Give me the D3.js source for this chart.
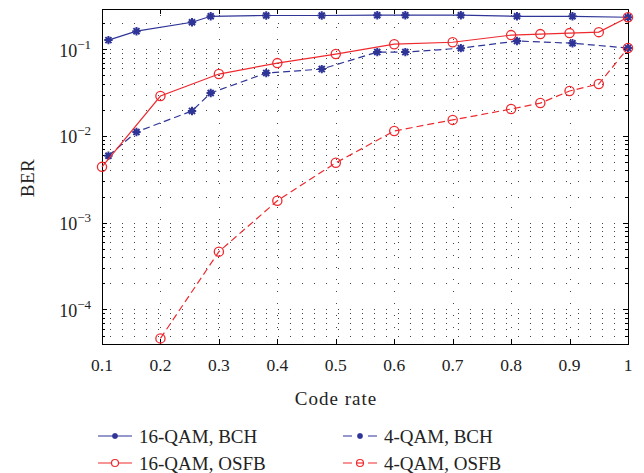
<!DOCTYPE html>
<html>
<head>
<meta charset="utf-8">
<script src="https://cdn.jsdelivr.net/npm/d3@7"></script>
<style>
	body { margin: 0; background: #fff; }
	svg { display: block; font-family: "Liberation Serif", "Times New Roman", serif; }
</style>
</head>
<body>
<div id="svg"></div>
<script>
const width = 644,
			height = 473;

// code rates of the BCH(63,k) codes and of the OSFB schemes
const rateBch = [0.111, 0.159, 0.254, 0.286, 0.381, 0.476, 0.571, 0.619, 0.714, 0.810, 0.905, 1];
const ber16Bch = [0.127, 0.161, 0.204, 0.239, 0.244, 0.244, 0.246, 0.246, 0.246, 0.239, 0.239, 0.233];
const ber4Bch = [0.0059, 0.0111, 0.0194, 0.0312, 0.053, 0.0589, 0.0924, 0.0924, 0.1026, 0.124, 0.117, 0.103];

const rate16Osfb = [0.1, 0.2, 0.3, 0.4, 0.5, 0.6, 0.7, 0.8, 0.85, 0.9, 0.95, 1];
const ber16Osfb = [0.0044, 0.0288, 0.0516, 0.069, 0.0877, 0.114, 0.120, 0.145, 0.149, 0.153, 0.157, 0.233];

const rate4Osfb = [0.2, 0.3, 0.4, 0.5, 0.6, 0.7, 0.8, 0.85, 0.9, 0.95, 1];
const ber4Osfb = [4.64e-5, 4.64e-4, 1.79e-3, 4.9e-3, 0.0114, 0.0153, 0.0204, 0.0239, 0.0329, 0.0396, 0.103];

const xTicks = [0.1, 0.2, 0.3, 0.4, 0.5, 0.6, 0.7, 0.8, 0.9, 1];
const xTickLabels = ["0.1", "0.2", "0.3", "0.4", "0.5", "0.6", "0.7", "0.8", "0.9", "1"];
const yExponents = [-1, -2, -3, -4];

const seriesNames = ["16-QAM, BCH", "4-QAM, BCH", "16-QAM, OSFB", "4-QAM, OSFB"];

const blue = "#2f3597",
			red = "#ee2a2f";

const series = [
	{ name: seriesNames[0], x: rateBch, y: ber16Bch, color: blue, dash: null, mark: "star" },
	{ name: seriesNames[1], x: rateBch, y: ber4Bch, color: blue, dash: "7,4", mark: "star" },
	{ name: seriesNames[2], x: rate16Osfb, y: ber16Osfb, color: red, dash: null, mark: "circle" },
	{ name: seriesNames[3], x: rate4Osfb, y: ber4Osfb, color: red, dash: "7,4", mark: "circle" }
];

const svg = d3.select("#svg")
	.append("svg")
		.attr("width", width)
		.attr("height", height);

const pLeft = 102, pRight = 628, pTop = 9, pBottom = 344;

const x = d3.scaleLinear()
		.domain([0.1, 1])
		.range([pLeft, pRight]);

const y = d3.scaleLog()
		.domain([4e-5, 0.29])
		.range([pBottom, pTop]);

// all log ticks (1..9 x decade) inside the domain
const logTicks = [];
for (let e = -5; e <= -1; e++) {
	for (let m = 1; m <= 9; m++) {
		const v = m * Math.pow(10, e);
		if (v >= y.domain()[0] && v <= y.domain()[1]) logTicks.push({ v: v, major: m === 1 });
	}
}

// dotted grid
const grid = svg.append("g")
		.attr("stroke", "#444")
		.attr("stroke-width", 1)
		.attr("stroke-dasharray", "1,11");

grid.selectAll("line.h")
	.data(logTicks)
	.enter()
	.append("line")
		.attr("x1", pLeft + 8)
		.attr("x2", pRight)
		.attr("y1", d => Math.round(y(d.v)) + 0.5)
		.attr("y2", d => Math.round(y(d.v)) + 0.5);

grid.selectAll("line.v")
	.data(xTicks.slice(1, -1))
	.enter()
	.append("line")
		.attr("x1", d => Math.round(x(d)) + 0.5)
		.attr("x2", d => Math.round(x(d)) + 0.5)
		.attr("y1", pBottom - 4)
		.attr("y2", pTop);

// box + inward ticks
const axes = svg.append("g")
		.attr("stroke", "#000")
		.attr("stroke-width", 1)
		.attr("fill", "none");

axes.append("rect")
		.attr("x", pLeft + 0.5)
		.attr("y", pTop + 0.5)
		.attr("width", pRight - pLeft)
		.attr("height", pBottom - pTop);

xTicks.forEach(t => {
	const px = Math.round(x(t)) + 0.5;
	axes.append("line").attr("x1", px).attr("x2", px).attr("y1", pBottom).attr("y2", pBottom - 5);
	axes.append("line").attr("x1", px).attr("x2", px).attr("y1", pTop).attr("y2", pTop + 5);
});

logTicks.forEach(d => {
	const py = Math.round(y(d.v)) + 0.5,
				len = d.major ? 5 : 3;
	axes.append("line").attr("x1", pLeft).attr("x2", pLeft + len).attr("y1", py).attr("y2", py);
	axes.append("line").attr("x1", pRight).attr("x2", pRight - len).attr("y1", py).attr("y2", py);
});

// tick labels
svg.append("g")
		.attr("text-anchor", "middle")
		.style("font-size", "17.5px")
		.attr("fill", "#222")
	.selectAll("text")
	.data(xTicks)
	.enter()
	.append("text")
		.attr("x", d => x(d))
		.attr("y", 371)
		.text((d, i) => xTickLabels[i]);

const yLab = svg.append("g")
		.attr("text-anchor", "end")
		.attr("fill", "#222")
	.selectAll("text")
	.data(yExponents)
	.enter()
	.append("text")
		.attr("x", 91)
		.attr("y", d => y(Math.pow(10, d)) + 7.5)
		.style("font-size", "18px");

yLab.append("tspan")
		.text("10");
yLab.append("tspan")
		.attr("dy", -8)
		.style("font-size", "13px")
		.text(d => "\u2212" + (-d));

// axis titles
svg.append("text")
		.attr("x", 336)
		.attr("y", 405)
		.attr("text-anchor", "middle")
		.attr("fill", "#222")
		.style("font-size", "19px")
		.style("letter-spacing", "1px")
		.text("Code rate");

svg.append("text")
		.attr("transform", "translate(34, 178) rotate(-90)")
		.attr("text-anchor", "middle")
		.attr("fill", "#222")
		.style("font-size", "19px")
		.style("letter-spacing", "0.5px")
		.text("BER");

function starPath(r) {
	const k = r * 0.72;
	return `M${-r},0L${r},0M0,${-r}L0,${r}M${-k},${-k}L${k},${k}M${-k},${k}L${k},${-k}`;
}

const line = d3.line()
		.x(d => x(d[0]))
		.y(d => y(d[1]));

const plot = svg.append("g");

series.forEach(s => {
	const pts = s.x.map((v, i) => [v, s.y[i]]);
	const gs = plot.append("g");

	gs.append("path")
			.datum(pts)
			.attr("fill", "none")
			.attr("stroke", s.color)
			.attr("stroke-width", 1.2)
			.attr("stroke-dasharray", s.dash)
			.attr("d", line);

	if (s.mark === "star") {
		gs.selectAll("path.m")
			.data(pts)
			.enter()
			.append("path")
				.attr("transform", d => `translate(${x(d[0])},${y(d[1])})`)
				.attr("d", starPath(4.2))
				.attr("stroke", s.color)
				.attr("stroke-width", 2)
				.attr("fill", "none");
	} else {
		gs.selectAll("circle")
			.data(pts)
			.enter()
			.append("circle")
				.attr("cx", d => x(d[0]))
				.attr("cy", d => y(d[1]))
				.attr("r", 4.6)
				.attr("stroke", s.color)
				.attr("stroke-width", 1.3)
				.attr("fill", "none");
	}
});

// legend
const legendPos = [[98, 436], [343, 436], [98, 463], [343, 463]];

const legend = svg.append("g")
	.selectAll("g")
	.data(series)
	.enter()
	.append("g")
		.attr("transform", (d, i) => `translate(${legendPos[i][0]}, ${legendPos[i][1]})`);

legend.append("line")
		.attr("x1", 0)
		.attr("x2", 34)
		.attr("stroke", d => d.color)
		.attr("stroke-width", 1.2)
		.attr("stroke-dasharray", d => d.dash ? "9,16" : null);

legend.filter(d => d.mark === "star")
	.append("path")
		.attr("transform", "translate(17,0)")
		.attr("d", starPath(3))
		.attr("stroke", d => d.color)
		.attr("stroke-width", 1.6)
		.attr("fill", "none");

legend.filter(d => d.mark === "circle")
	.append("circle")
		.attr("cx", 17)
		.attr("r", 3.5)
		.attr("stroke", d => d.color)
		.attr("stroke-width", 1.2)
		.attr("fill", "#fff");

legend.filter(d => d.mark === "circle" && d.dash)
	.append("line")
		.attr("x1", 13.5)
		.attr("x2", 20.5)
		.attr("stroke", d => d.color)
		.attr("stroke-width", 1.2);

legend.append("text")
		.attr("x", 41)
		.attr("dy", "0.35em")
		.attr("fill", "#222")
		.style("font-size", "19px")
		.text(d => d.name);
</script>
</body>
</html>
